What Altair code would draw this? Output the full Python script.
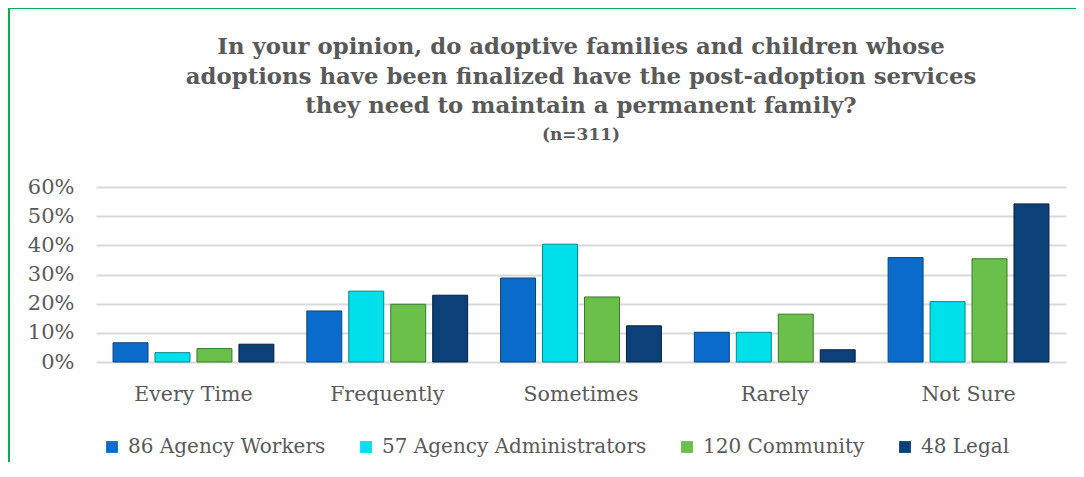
import altair as alt
import pandas as pd

categories = ["Every Time", "Frequently", "Sometimes", "Rarely", "Not Sure"]
groups = ["86 Agency Workers", "57 Agency Administrators", "120 Community", "48 Legal"]
workers = [0.066, 0.175, 0.288, 0.102, 0.358]
administrators = [0.032, 0.243, 0.404, 0.102, 0.207]
community = [0.046, 0.198, 0.223, 0.164, 0.354]
legal = [0.061, 0.229, 0.124, 0.042, 0.542]
colors = ["#0B6BCB", "#00E0EA", "#6BC04B", "#0D3F78"]
strokes = ["#07437f", "#00878e", "#3b7a28", "#06203f"]

series = [workers, administrators, community, legal]
rows = []
for g, vals in zip(groups, series):
    for c, v in zip(categories, vals):
        rows.append({"category": c, "group": g, "value": v})
df = pd.DataFrame(rows)

FONT = "DejaVu Serif"
GRAY = "#595959"

bars = alt.Chart(df).mark_bar(strokeWidth=1).encode(
    x=alt.X("category:N", sort=categories,
            scale=alt.Scale(paddingInner=0.17, paddingOuter=0.088),
            axis=alt.Axis(title=None, labelAngle=0, labelFont=FONT, labelFontSize=20.5,
                          labelColor=GRAY, labelPadding=22, ticks=False, domain=False,
                          grid=False)),
    xOffset=alt.XOffset("group:N", sort=groups, scale=alt.Scale(paddingInner=0.167)),
    y=alt.Y("value:Q", scale=alt.Scale(domain=[0, 0.6]),
            axis=alt.Axis(title=None, format=".0%", values=[0, 0.1, 0.2, 0.3, 0.4, 0.5, 0.6],
                          labelFont=FONT, labelFontSize=21, labelColor=GRAY,
                          labelPadding=22, ticks=False, domain=False,
                          gridColor="#d9d9d9", gridWidth=2)),
    color=alt.Color("group:N", sort=groups,
                    scale=alt.Scale(domain=groups, range=colors),
                    legend=alt.Legend(title=None, orient="none", direction="horizontal",
                                      legendX=6, legendY=250, symbolType="square",
                                      symbolSize=140, symbolStrokeWidth=0,
                                      labelFont=FONT, labelFontSize=20, labelColor=GRAY,
                                      labelOffset=6, columnPadding=30, labelLimit=400)),
    stroke=alt.Stroke("group:N", sort=groups,
                      scale=alt.Scale(domain=groups, range=strokes), legend=None),
)

frame_left = alt.Chart(pd.DataFrame({"k": [0]})).mark_rule(color="#00B050", strokeWidth=2).encode(
    x=alt.value(-87), y=alt.value(-180), y2=alt.value(300))
frame_top = alt.Chart(pd.DataFrame({"k": [0]})).mark_rule(color="#00B050", strokeWidth=2).encode(
    x=alt.value(-88), x2=alt.value(1000), y=alt.value(-179))

chart = alt.layer(bars, frame_left, frame_top).properties(
    width=970, height=175,
    background="white",
    autosize=alt.AutoSizeParams(type="none"),
    padding={"left": 88, "top": 179, "right": 10, "bottom": 100},
    title=alt.TitleParams(
        text=["In your opinion, do adoptive families and children whose",
              "adoptions have been finalized have the post-adoption services",
              "they need to maintain a permanent family?"],
        subtitle="(n=311)",
        font=FONT, fontSize=22.8, fontWeight="bold", color=GRAY, lineHeight=29.5,
        subtitleFont=FONT, subtitleFontSize=17, subtitleFontWeight="bold",
        subtitleColor=GRAY, subtitlePadding=9, anchor="middle", offset=0, dy=137),
).configure_view(stroke=None)

chart.save("out.html", embed_options={"renderer": "svg", "actions": False})
